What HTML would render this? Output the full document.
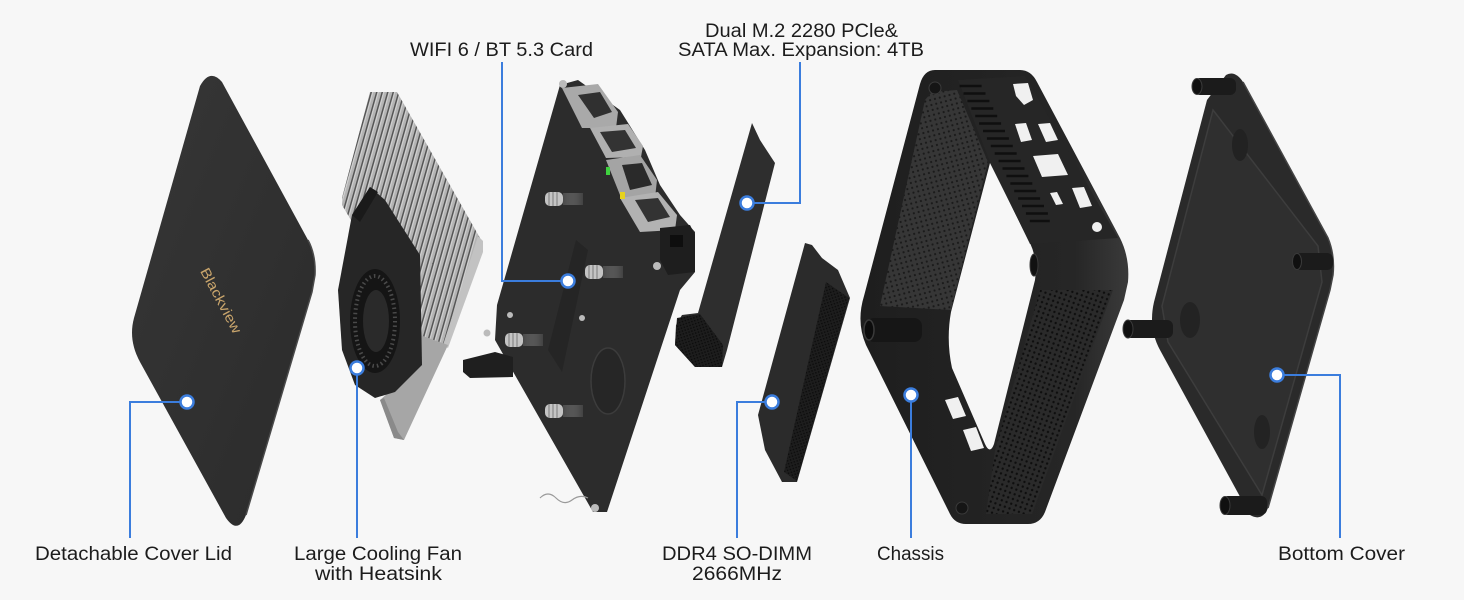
<!DOCTYPE html>
<html><head><meta charset="utf-8">
<style>
html,body{margin:0;padding:0;background:#f7f7f7;}
svg{display:block;}
.lbl{font-family:"Liberation Sans",sans-serif;font-size:19px;fill:#1c1c1c;}
</style></head><body>
<svg width="1464" height="600" viewBox="0 0 1464 600" xmlns="http://www.w3.org/2000/svg">
<defs>
 <pattern id="fins" width="5.3" height="20" patternUnits="userSpaceOnUse" patternTransform="rotate(15.7)">
   <rect width="5.3" height="20" fill="#b4b4b4"/>
   <rect x="0" width="1.6" height="20" fill="#555555"/>
   <rect x="1.6" width="1.1" height="20" fill="#d6d6d6"/>
 </pattern>
 <pattern id="perf" width="5" height="5" patternUnits="userSpaceOnUse" patternTransform="rotate(-15)">
   <rect width="5" height="5" fill="#363636"/>
   <circle cx="2.5" cy="2.5" r="1.1" fill="#1a1a1a"/>
 </pattern>
 <pattern id="perf2" width="5" height="5" patternUnits="userSpaceOnUse" patternTransform="rotate(20)">
   <rect width="5" height="5" fill="#2a2a2a"/>
   <circle cx="2.5" cy="2.5" r="1.2" fill="#0e0e0e"/>
 </pattern>
 <pattern id="ribs" width="3" height="3" patternUnits="userSpaceOnUse" patternTransform="rotate(-18)">
   <rect width="3" height="3" fill="#1d1d1d"/>
   <rect width="1.4" height="1.4" fill="#0c0c0c"/>
 </pattern>
 <linearGradient id="lidg" x1="0" y1="0" x2="1" y2="1">
   <stop offset="0" stop-color="#363636"/><stop offset="1" stop-color="#2b2b2b"/>
 </linearGradient>
 <linearGradient id="post" x1="0" y1="0" x2="1" y2="0">
   <stop offset="0" stop-color="#4a4a4a"/><stop offset="1" stop-color="#9a9a9a" stop-opacity="0.2"/>
 </linearGradient>
 <linearGradient id="chg" x1="0" y1="0" x2="1" y2="0">
   <stop offset="0" stop-color="#1e1e1e"/><stop offset="0.8" stop-color="#262626"/><stop offset="1" stop-color="#3a3a3a"/>
 </linearGradient>
</defs>

<rect width="1464" height="600" fill="#f7f7f7"/>

<!-- ===== Cover lid ===== -->
<path d="M200 86 Q210 68 222 82 L308 240 Q316 255 315 275 L312 292 L246 515 Q238 535 226 518 L140 362 Q128 340 134 318 Z" fill="url(#lidg)"/>
<path d="M308 240 Q316 255 315 275 L312 292 L246 515" fill="none" stroke="#4a4a4a" stroke-width="1.5"/>
<text transform="translate(220,301) rotate(62)" text-anchor="middle" dominant-baseline="middle" style="font-family:'Liberation Sans',sans-serif;font-size:14px;fill:#c9a56c;" textLength="72" lengthAdjust="spacingAndGlyphs">Blackview</text>

<!-- ===== Heatsink + fan ===== -->
<polygon points="370,92 397,92 480,238 445,345 422,340 342,205 342,198" fill="url(#fins)"/>
<polygon points="478,236 483,241 483,252 448,348 443,345" fill="#c2c2c2"/>
<polygon points="420,335 448,345 404,440 394,438 380,400 420,365" fill="#a6a6a6"/>
<polygon points="404,440 394,438 380,400 384,398 398,432" fill="#8a8a8a"/>
<polygon points="370,187 385,200 420,255 422,365 395,392 375,398 355,385 342,350 338,290 352,215" fill="#262626"/>
<polygon points="352,215 370,187 378,192 360,222" fill="#1a1a1a"/>
<ellipse cx="375" cy="321" rx="25" ry="52" fill="#151515"/>
<ellipse cx="375" cy="321" rx="20" ry="45" fill="none" stroke="#4a4a4a" stroke-width="4" stroke-dasharray="1.5 3"/>
<ellipse cx="376" cy="321" rx="13" ry="31" fill="#2a2a2a"/>

<!-- ===== Motherboard ===== -->
<polygon points="560,85 578,80 620,110 645,150 660,185 680,215 695,232 695,272 680,290 607,512 593,512 495,340 497,305" fill="#2c2c2c"/>
<polygon points="576,240 588,250 562,372 548,350" fill="#252525"/>
<polygon points="463,360 495,352 513,357 513,377 470,378 463,372" fill="#1f1f1f"/>
<!-- ports -->
<polygon points="562,88 598,84 618,112 616,128 582,128" fill="#a9a9a9"/>
<polygon points="578,95 600,92 612,112 594,118" fill="#303030"/>
<polygon points="590,128 628,124 643,146 641,157 606,158" fill="#b0b0b0"/>
<polygon points="600,132 625,130 636,148 612,152" fill="#333"/>
<polygon points="606,160 640,155 657,180 655,198 622,200" fill="#a4a4a4"/>
<polygon points="622,165 642,163 652,185 630,190" fill="#2a2a2a"/>
<polygon points="620,198 658,192 677,215 675,230 640,232" fill="#b2b2b2"/>
<polygon points="635,200 658,198 670,217 648,222" fill="#333"/>
<polygon points="660,228 690,225 695,235 695,272 668,275 660,260" fill="#1e1e1e"/>
<rect x="670" y="235" width="13" height="12" fill="#0e0e0e"/>
<rect x="606" y="167" width="4" height="8" fill="#3fd23f"/>
<rect x="620" y="192" width="5" height="7" fill="#e6d21c"/>
<!-- screws -->
<g>
 <rect x="545" y="192" width="18" height="14" rx="5" fill="#c4c4c4"/>
 <path d="M549 192v14M553 192v14M557 192v14" stroke="#7a7a7a" stroke-width="1"/>
 <rect x="563" y="193" width="20" height="12" fill="url(#post)"/>
 <rect x="585" y="265" width="18" height="14" rx="5" fill="#c4c4c4"/>
 <path d="M589 265v14M593 265v14M597 265v14" stroke="#7a7a7a" stroke-width="1"/>
 <rect x="603" y="266" width="20" height="12" fill="url(#post)"/>
 <rect x="505" y="333" width="18" height="14" rx="5" fill="#c4c4c4"/>
 <path d="M509 333v14M513 333v14M517 333v14" stroke="#7a7a7a" stroke-width="1"/>
 <rect x="523" y="334" width="20" height="12" fill="url(#post)"/>
 <rect x="545" y="404" width="18" height="14" rx="5" fill="#c4c4c4"/>
 <path d="M549 404v14M553 404v14M557 404v14" stroke="#7a7a7a" stroke-width="1"/>
 <rect x="563" y="405" width="20" height="12" fill="url(#post)"/>
 <circle cx="510" cy="315" r="3" fill="#bbb"/>
 <circle cx="582" cy="318" r="3" fill="#bbb"/>
 <circle cx="657" cy="266" r="4" fill="#bbb"/>
 <circle cx="487" cy="333" r="3.5" fill="#bbb"/>
 <circle cx="563" cy="84" r="4" fill="#bbb"/>
 <circle cx="595" cy="508" r="4" fill="#bbb"/>
</g>
<ellipse cx="608" cy="381" rx="17" ry="33" fill="#262626" stroke="#3c3c3c" stroke-width="1.5"/>
<path d="M540 498 q8 -8 16 0 t16 2 t16 -2" fill="none" stroke="#9a9a9a" stroke-width="1.2"/>

<!-- ===== M.2 SSD ===== -->
<polygon points="752,123 760,140 775,163 727,350 722,367 695,367 675,345 676,325 682,315 698,313" fill="#2e2e2e"/>
<polygon points="677,318 700,314 723,345 722,367 695,367 675,345" fill="url(#ribs)"/>

<!-- ===== DDR4 ===== -->
<polygon points="805,243 812,245 822,258 838,270 850,298 797,482 782,482 765,450 758,415" fill="#2b2b2b"/>
<polygon points="826,282 849,298 797,481 784,472" fill="url(#ribs)"/>

<!-- ===== Chassis ===== -->
<path fill-rule="evenodd" fill="url(#chg)" d="M935 70 L1020 70 Q1031 70 1037 82 L1120 238 Q1130 258 1128 282 L1124 300 L1045 512 Q1040 524 1028 524 L966 524 Q955 524 950 514 L866 345 Q856 322 864 296 L920 84 Q924 70 935 70 Z M990 163 L1030 243 Q1038 260 1035 280 L994 444 Q990 455 985 444 L952 368 Q946 340 951 312 Z"/>
<polygon points="932,92 957,90 988,162 951,310 880,306 925,100" fill="url(#perf)"/>
<polygon points="958,80 1025,76 1118,238 1030,244 990,162" fill="#262626"/>
<path d="M959.6 86h22M963.5 93.5h22M967.4 101h22M971.3 108.5h22M975.2 116h22M979.1 123.5h22M983 131h22M986.9 138.5h22M990.8 146h22M994.7 153.5h22M998.6 161h22M1002.5 168.5h22M1006.4 176h22M1010.3 183.5h22M1014.2 191h22M1018.1 198.5h22M1022 206h22M1025.9 213.5h22M1029.8 221h20" stroke="#0f0f0f" stroke-width="2.4"/>
<g fill="#f0f0f0">
 <polygon points="1013,84 1028,83 1033,100 1024,105 1016,96"/>
 <polygon points="1015,124 1026,123 1032,140 1021,142"/>
 <polygon points="1038,124 1050,123 1058,140 1046,142"/>
 <polygon points="1033,156 1058,154 1068,175 1042,177"/>
 <polygon points="1050,193 1057,192 1063,204 1056,205"/>
 <polygon points="1072,188 1084,187 1092,206 1080,208"/>
 <circle cx="1097" cy="227" r="5"/>
 <polygon points="945,400 958,397 966,416 953,419"/>
 <polygon points="963,430 976,427 984,448 971,451"/>
</g>
<polygon points="1040,290 1113,290 1032,514 986,514 995,450" fill="url(#perf2)"/>
<rect x="866" y="318" width="56" height="24" rx="8" fill="#161616"/>
<ellipse cx="869" cy="330" rx="5" ry="10" fill="#0c0c0c" stroke="#3a3a3a" stroke-width="1.5"/>
<ellipse cx="1034" cy="265" rx="4" ry="11" fill="#111" stroke="#3a3a3a" stroke-width="1"/>
<circle cx="935" cy="88" r="6" fill="#151515" stroke="#3a3a3a" stroke-width="1"/>
<circle cx="962" cy="508" r="6" fill="#151515" stroke="#3a3a3a" stroke-width="1"/>

<!-- ===== Bottom cover ===== -->
<path d="M1207 100 L1226 75 Q1235 70 1243 82 L1328 238 Q1335 255 1333 275 L1330 290 L1268 508 Q1262 522 1250 515 L1160 350 Q1148 328 1154 302 Z" fill="#2a2a2a"/>
<polygon points="1213,110 1318,246 1322,282 1262,495 1168,342 1162,306" fill="#2f2f2f" stroke="#3d3d3d" stroke-width="1.5"/>
<path d="M1243 82 L1328 238 Q1335 255 1333 275 L1330 290 L1268 508" fill="none" stroke="#444" stroke-width="1.5"/>
<ellipse cx="1240" cy="145" rx="8" ry="16" fill="#222"/>
<ellipse cx="1190" cy="320" rx="10" ry="18" fill="#232323"/>
<ellipse cx="1262" cy="432" rx="8" ry="17" fill="#232323"/>
<g>
 <rect x="1194" y="78" width="42" height="17" rx="6" fill="#1b1b1b"/>
 <ellipse cx="1197" cy="86.5" rx="5" ry="8" fill="#101010" stroke="#3a3a3a" stroke-width="1"/>
 <rect x="1295" y="253" width="38" height="17" rx="6" fill="#1b1b1b"/>
 <ellipse cx="1297" cy="261.5" rx="4.5" ry="8" fill="#101010" stroke="#3a3a3a" stroke-width="1"/>
 <rect x="1125" y="320" width="48" height="18" rx="6" fill="#1b1b1b"/>
 <ellipse cx="1128" cy="329" rx="5" ry="9" fill="#101010" stroke="#3a3a3a" stroke-width="1"/>
 <rect x="1222" y="496" width="45" height="19" rx="6" fill="#1b1b1b"/>
 <ellipse cx="1225" cy="505.5" rx="5" ry="9" fill="#101010" stroke="#3a3a3a" stroke-width="1"/>
</g>

<!-- ===== Connectors ===== -->
<g fill="none" stroke="#3b7ddd" stroke-width="2">
 <path d="M130 538 V402 H181"/>
 <path d="M357 538 V374"/>
 <path d="M502 62 V281 H562"/>
 <path d="M800 62 V203 H753"/>
 <path d="M737 538 V402 H766"/>
 <path d="M911 538 V401"/>
 <path d="M1340 538 V375 H1283"/>
</g>
<g fill="#ffffff" stroke="#3b7ddd" stroke-width="2.5">
 <circle cx="187" cy="402" r="6.5"/>
 <circle cx="357" cy="368" r="6.5"/>
 <circle cx="568" cy="281" r="6.5"/>
 <circle cx="747" cy="203" r="6.5"/>
 <circle cx="772" cy="402" r="6.5"/>
 <circle cx="911" cy="395" r="6.5"/>
 <circle cx="1277" cy="375" r="6.5"/>
</g>

<!-- ===== Labels ===== -->
<text class="lbl" x="410" y="56" textLength="183" lengthAdjust="spacingAndGlyphs">WIFI 6 / BT 5.3 Card</text>
<text class="lbl" x="705" y="37" textLength="193" lengthAdjust="spacingAndGlyphs">Dual M.2 2280 PCle&amp;</text>
<text class="lbl" x="678" y="56" textLength="246" lengthAdjust="spacingAndGlyphs">SATA Max. Expansion: 4TB</text>
<text class="lbl" x="35" y="560" textLength="197" lengthAdjust="spacingAndGlyphs">Detachable Cover Lid</text>
<text class="lbl" x="294" y="560" textLength="168" lengthAdjust="spacingAndGlyphs">Large Cooling Fan</text>
<text class="lbl" x="315" y="580" textLength="127" lengthAdjust="spacingAndGlyphs">with Heatsink</text>
<text class="lbl" x="662" y="560" textLength="150" lengthAdjust="spacingAndGlyphs">DDR4 SO-DIMM</text>
<text class="lbl" x="692" y="580" textLength="90" lengthAdjust="spacingAndGlyphs">2666MHz</text>
<text class="lbl" x="877" y="560" textLength="67" lengthAdjust="spacingAndGlyphs">Chassis</text>
<text class="lbl" x="1278" y="560" textLength="127" lengthAdjust="spacingAndGlyphs">Bottom Cover</text>
</svg>
</body></html>
